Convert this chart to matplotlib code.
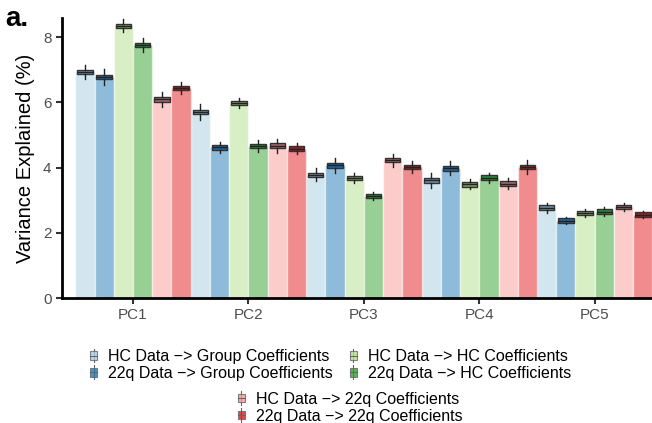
import matplotlib
matplotlib.use('Agg')
import matplotlib.pyplot as plt
from matplotlib.legend_handler import HandlerBase
from matplotlib.patches import Rectangle
from matplotlib.lines import Line2D

plt.rcParams['font.family'] = ['Liberation Sans', 'DejaVu Sans']

# data
components = ['PC1', 'PC2', 'PC3', 'PC4', 'PC5']
conditions = ['HC Data \u2212> Group Coefficients', '22q Data \u2212> Group Coefficients',
              'HC Data \u2212> HC Coefficients', '22q Data \u2212> HC Coefficients',
              'HC Data \u2212> 22q Coefficients', '22q Data \u2212> 22q Coefficients']

# mean variance explained, one list per condition (PC1..PC5)
hc_group = [6.93, 5.70, 3.78, 3.61, 2.77]
q22_group = [6.78, 4.62, 4.07, 3.98, 2.37]
hc_hc = [8.35, 5.98, 3.68, 3.49, 2.61]
q22_hc = [7.76, 4.66, 3.13, 3.69, 2.65]
hc_q22 = [6.09, 4.67, 4.23, 3.51, 2.79]
q22_q22 = [6.44, 4.58, 4.02, 4.02, 2.56]
means = [hc_group, q22_group, hc_hc, q22_hc, hc_q22, q22_q22]

# whisker half-range of the bootstrap boxes
spread = [[0.22, 0.25, 0.20, 0.24, 0.15],
          [0.25, 0.18, 0.22, 0.22, 0.10],
          [0.20, 0.15, 0.16, 0.15, 0.13],
          [0.22, 0.18, 0.13, 0.16, 0.14],
          [0.24, 0.22, 0.20, 0.18, 0.12],
          [0.18, 0.16, 0.18, 0.22, 0.12]]

bar_colors = ['#a6cee3', '#1f78b4', '#b2df8a', '#33a02c', '#fb9a99', '#e31a1c']
box_colors = ['#6f8ea3', '#1f66a0', '#7e9a62', '#2c8a38', '#a4686c', '#a01d21']

fig = plt.figure(figsize=(6.52, 4.23), dpi=100)
ax = fig.add_axes([62 / 652, 125 / 423, 602 / 652, 280 / 423])

n = len(conditions)
w = 1.0 / n
for j in range(n):
    xs = [i - 0.5 + w * (j + 0.5) for i in range(len(components))]
    ax.bar(xs, means[j], width=w, color=bar_colors[j], alpha=0.5,
           edgecolor='white', linewidth=1.0, zorder=2)
    stats = []
    for i in range(len(components)):
        m = means[j][i]
        s = spread[j][i]
        stats.append(dict(med=m, q1=m - 0.07, q3=m + 0.07,
                          whislo=m - s, whishi=m + s, fliers=[]))
    ax.bxp(stats, positions=xs, widths=w * 0.8, patch_artist=True,
           showcaps=False, showfliers=False, manage_ticks=False,
           boxprops=dict(facecolor=box_colors[j], edgecolor='#333333', linewidth=1.0),
           medianprops=dict(color='#222222', linewidth=1.0),
           whiskerprops=dict(color='#222222', linewidth=1.0), zorder=3)

ax.set_xlim(-0.615, 4.6)
ax.set_ylim(0, 8.59)
ax.set_xticks(range(len(components)))
ax.set_xticklabels(components)
ax.set_yticks([0, 2, 4, 6, 8])
ax.tick_params(axis='both', colors='#333333', labelcolor='#4d4d4d',
               labelsize=11, width=1.5, length=4)
for side in ['top', 'right']:
    ax.spines[side].set_visible(False)
for side in ['left', 'bottom']:
    ax.spines[side].set_linewidth(2)
ax.set_ylabel('Variance Explained (%)', fontsize=14.5, labelpad=6)

fig.text(0.008, 0.955, 'a.', fontsize=20, fontweight='bold', va='center')


class BoxHandler(HandlerBase):
    def create_artists(self, legend, orig_handle, xdescent, ydescent,
                       width, height, fontsize, trans):
        fc, bc = orig_handle
        cx = width / 2 - xdescent
        wl = Line2D([cx, cx], [-ydescent - 1, height + 1], color='#666666',
                    linewidth=0.8, transform=trans)
        box = Rectangle((cx - 2.5, -ydescent + 1), 5, height - 2, facecolor=bc,
                        alpha=0.8, edgecolor='#666666', linewidth=0.8, transform=trans)
        med = Line2D([cx - 2.5, cx + 2.5], [height / 2 - ydescent] * 2,
                     color='#666666', linewidth=0.8, transform=trans)
        return [wl, box, med]


handles = [(bar_colors[j], bar_colors[j]) for j in range(n)]
leg_kw = dict(handler_map={tuple: BoxHandler()}, frameon=False, fontsize=11.5,
              handlelength=0.6, handletextpad=0.6, labelspacing=0.12,
              columnspacing=1.0, borderpad=0)
leg1 = fig.legend(handles[:4], conditions[:4],
                  ncol=2, loc='center', bbox_to_anchor=(0.506, 0.137), **leg_kw)
leg2 = fig.legend(handles[4:], conditions[4:], ncol=1, loc='center',
                  bbox_to_anchor=(0.536, 0.036), **leg_kw)

plt.savefig('out.png', dpi=100)
